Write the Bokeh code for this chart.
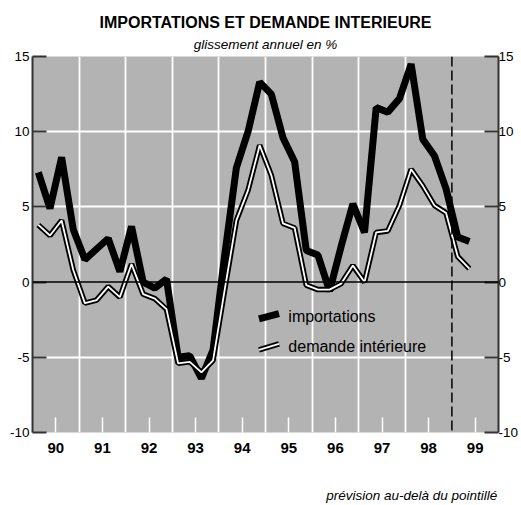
from bokeh.plotting import figure
from bokeh.models import Span, Label, LinearAxis, FixedTicker, Range1d, Title
from bokeh.embed import file_html
from bokeh.resources import INLINE

# ---------------- data ----------------
title = "IMPORTATIONS ET DEMANDE INTERIEURE"
subtitle = "glissement annuel en %"
note = "prévision au-delà du pointillé"
series_names = ["importations", "demande intérieure"]
year_labels = ["90", "91", "92", "93", "94", "95", "96", "97", "98", "99"]
first_year = 1990
forecast_start = 1999.0
y_ticks = [-10, -5, 0, 5, 10, 15]

# quarterly year-on-year growth, 1990Q1 .. 1999Q2
importations = [7.3, 4.9, 8.3, 3.5, 1.5, 2.2, 2.9, 0.7, 3.7, 0.0,
                -0.4, 0.2, -5.0, -4.9, -6.4, -4.5, 1.8, 7.6, 10.0, 13.3,
                12.5, 9.6, 8.0, 2.1, 1.8, -0.6, 2.4, 5.2, 3.3, 11.6,
                11.3, 12.2, 14.5, 9.5, 8.4, 6.2, 3.0, 2.7]
demande = [3.8, 3.1, 4.1, 0.8, -1.4, -1.2, -0.3, -1.0, 1.2, -0.8,
           -1.1, -1.8, -5.4, -5.3, -6.0, -5.2, -0.5, 4.1, 6.1, 9.1,
           7.1, 3.9, 3.6, -0.2, -0.5, -0.5, -0.1, 1.1, 0.0, 3.3,
           3.4, 5.1, 7.5, 6.4, 5.1, 4.6, 1.7, 0.9]

periods = [(y, q) for y in range(first_year, first_year + 10) for q in range(1, 5)][:len(importations)]
x = [y + (q - 0.5) / 4 for (y, q) in periods]

FONT = "Liberation Sans"
GRAY = "#b3b3b3"
DARK = "#333333"

p = figure(width=521, height=505,
           x_range=Range1d(first_year, first_year + 10), y_range=Range1d(-10, 15),
           output_backend="svg", toolbar_location=None,
           min_border_left=32, min_border_right=22, min_border_top=56, min_border_bottom=72,
           background_fill_color=GRAY, border_fill_color="white", outline_line_color=None)

# titles (added innermost first)
p.add_layout(Title(text=subtitle, text_font=FONT, text_font_style="italic",
                   text_font_size="13.5px", align="center", standoff=9,
                   text_color="black"), "above")
p.add_layout(Title(text=title, text_font=FONT, text_font_style="bold",
                   text_font_size="16px", align="center", standoff=0,
                   text_color="black"), "above")

# x axis (bottom)
xt = [first_year + 0.5 + i for i in range(len(year_labels))]
p.xaxis.ticker = FixedTicker(ticks=xt)
p.xaxis.major_label_overrides = {t: lab for t, lab in zip(xt, year_labels)}
p.xaxis.axis_line_color = None
p.xaxis.major_tick_in = 15
p.xaxis.major_tick_out = 0
p.xaxis.major_tick_line_color = "white"
p.xaxis.major_tick_line_width = 1.5
p.xaxis.minor_tick_line_color = None
p.xaxis.major_label_text_font = FONT
p.xaxis.major_label_text_font_style = "bold"
p.xaxis.major_label_text_font_size = "15px"
p.xaxis.major_label_text_color = "black"
p.xaxis.major_label_standoff = 10
# footnote carried by the axis label; centred label padded on the left with
# non-breaking spaces so that the visible words end under the right edge
p.xaxis.axis_label = "\u00a0" * 78 + note
p.xaxis.axis_label_text_font = FONT
p.xaxis.axis_label_text_font_style = "italic"
p.xaxis.axis_label_text_font_size = "13.5px"
p.xaxis.axis_label_text_color = "black"
p.xaxis.axis_label_standoff = 32

right = LinearAxis()
p.add_layout(right, "right")
for ax in (p.yaxis[0], right):
    ax.ticker = FixedTicker(ticks=y_ticks)
    ax.major_label_overrides = {t: str(t) for t in y_ticks}
    ax.axis_line_color = DARK
    ax.axis_line_width = 2
    ax.major_tick_in = 14
    ax.major_tick_out = 0
    ax.major_tick_line_color = DARK
    ax.major_tick_line_width = 2
    ax.minor_tick_line_color = None
    ax.major_label_text_font = FONT
    ax.major_label_text_font_size = "13.5px"
    ax.major_label_text_color = "black"
    ax.major_label_standoff = 3
right.major_label_standoff = 0

# grids
p.xgrid.ticker = FixedTicker(ticks=[first_year + i for i in range(1, 9)])
p.xgrid.grid_line_color = "white"
p.xgrid.grid_line_width = 1.8
p.ygrid.ticker = FixedTicker(ticks=[-5, 5, 10])
p.ygrid.grid_line_color = "white"
p.ygrid.grid_line_width = 2

p.add_layout(Span(location=0, dimension="width", line_color="black", line_width=1.5))
p.add_layout(Span(location=forecast_start, dimension="height", line_color="black",
                  line_width=1.5, line_dash="10 4"))

# series
p.line(x, importations, line_width=7, line_color="black", line_join="bevel")
p.line(x, demande, line_width=5.5, line_color="black", line_join="bevel")
p.line(x, demande, line_width=1.8, line_color="white", line_join="bevel")

# legend (drawn by hand, slanted samples)
p.segment(x0=[1994.86], y0=[-2.45], x1=[1995.29], y1=[-2.1], line_width=7, line_color="black")
p.segment(x0=[1994.86], y0=[-4.5], x1=[1995.29], y1=[-4.1], line_width=5.5, line_color="black")
p.segment(x0=[1994.86], y0=[-4.5], x1=[1995.29], y1=[-4.1], line_width=1.8, line_color="white")
p.add_layout(Label(x=1995.49, y=-2.32, text=series_names[0], text_font=FONT,
                   text_font_size="16px", text_baseline="middle", text_color="black"))
p.add_layout(Label(x=1995.49, y=-4.3, text=series_names[1], text_font=FONT,
                   text_font_size="16px", text_baseline="middle", text_color="black"))

open("out.html", "w").write(file_html(p, INLINE))
